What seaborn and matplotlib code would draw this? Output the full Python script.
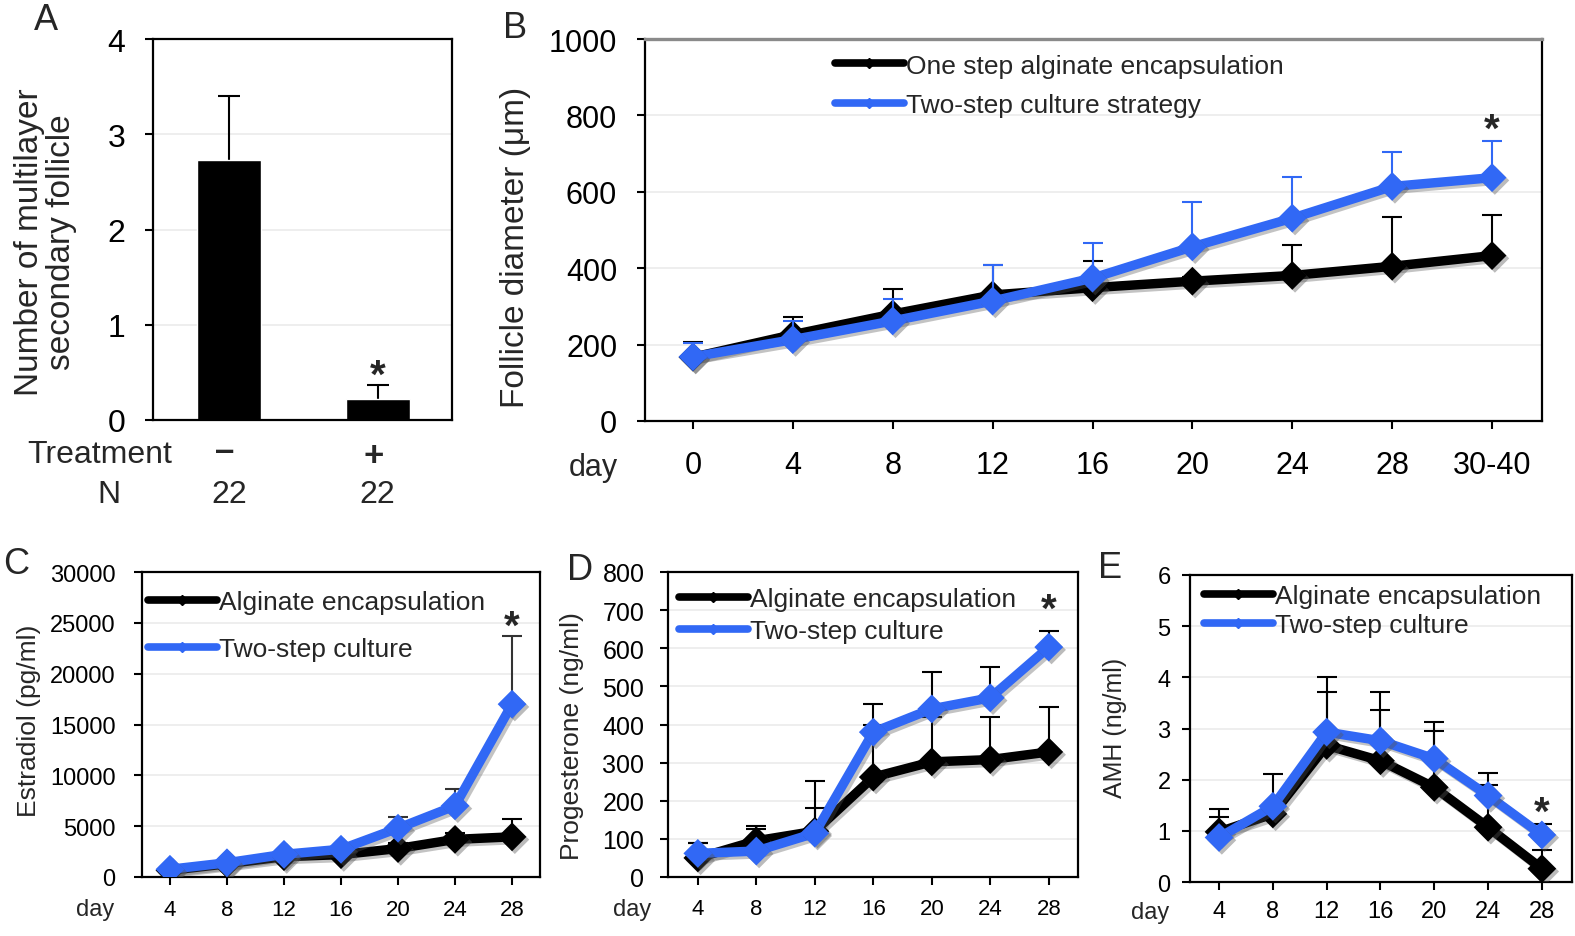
import numpy as np
import pandas as pd
import matplotlib
matplotlib.use("Agg")
import matplotlib.pyplot as plt
import seaborn as sns
import matplotlib.patheffects as pe
from matplotlib.lines import Line2D
from matplotlib.transforms import blended_transform_factory

# ---------------- data ----------------
a_groups = ["–", "+"]
a_n = ["22", "22"]
a_mean = [2.73, 0.22]
a_err_top = [3.40, 0.37]

b_days = ["0", "4", "8", "12", "16", "20", "24", "28", "30-40"]
b_one_mean = [167, 226, 280, 330, 349, 366, 381, 405, 433]
b_one_top = [206, 273, 346, 409, 420, 378, 460, 533, 538]
b_two_mean = [168, 213, 262, 314, 374, 456, 531, 614, 637]
b_two_top = [205, 262, 320, 409, 466, 574, 639, 704, 733]

hd_days = ["4", "8", "12", "16", "20", "24", "28"]
c_alg_mean = [650, 1300, 2000, 2200, 2800, 3700, 3950]
c_alg_top = [800, 1500, 2300, 2500, 3300, 4300, 5700]
c_two_mean = [760, 1400, 2230, 2730, 4800, 7000, 17000]
c_two_top = [900, 1600, 2500, 3000, 5900, 8650, 23750]

d_alg_mean = [50, 95, 120, 262, 302, 308, 328]
d_alg_top = [90, 127, 180, 400, 420, 420, 446]
d_two_mean = [62, 68, 115, 380, 441, 470, 603]
d_two_top = [88, 133, 251, 454, 539, 552, 645]

e_alg_mean = [0.98, 1.33, 2.67, 2.37, 1.85, 1.07, 0.26]
e_alg_top = [1.27, 1.50, 3.71, 3.37, 2.96, 1.89, 0.63]
e_two_mean = [0.87, 1.48, 2.93, 2.76, 2.41, 1.69, 0.92]
e_two_top = [1.43, 2.11, 4.00, 3.72, 3.12, 2.13, 1.14]

BLACK = "#000000"
BLUE = "#3168F5"
GRID = "#EBEBEB"

# ---------------- figure ----------------
sns.set_theme(style="white")
plt.rcParams["font.family"] = ["Liberation Sans", "DejaVu Sans"]

W, H = 1575, 937
fig = plt.figure(figsize=(W / 100, H / 100), dpi=100)


def add_ax(l, r, t, b):
    return fig.add_axes([l / W, 1 - b / H, (r - l) / W, (b - t) / H])


def ftext(x, y, s, **kw):
    fig.text(x / W, 1 - y / H, s, **kw)


def style(ax, ylim, yticks, yfs, xfs, ypad, xpad):
    ax.set_ylim(*ylim)
    ax.set_yticks(yticks)
    for v in yticks[1:-1]:
        ax.axhline(v, color=GRID, lw=1.2, zorder=0)
    for s in ax.spines.values():
        s.set_visible(True)
        s.set_color("black")
        s.set_linewidth(1.6)
    ax.tick_params(axis="y", left=True, direction="out", length=6, width=1.5,
                   color="black", labelsize=yfs, pad=ypad, labelcolor="black")
    ax.tick_params(axis="x", bottom=True, direction="out", length=6, width=1.5,
                   color="black", labelsize=xfs, pad=xpad, labelcolor="black")
    ax.grid(False)
    ax.set_xlabel("")


line_fx = [pe.SimpleLineShadow(offset=(2, -2), shadow_color="#555555", alpha=0.35), pe.Normal()]
mark_fx = [pe.SimplePatchShadow(offset=(2, -2), shadow_rgbFace="#555555", alpha=0.4), pe.Normal()]


def upper_errors(ax, x, mean, top, ecolor, z, capsize=7):
    mean = np.asarray(mean, float)
    top = np.asarray(top, float)
    _, caps, _ = ax.errorbar(x, mean, yerr=[np.zeros(len(mean)), top - mean], fmt="none",
                             ecolor=ecolor, elinewidth=1.5, capsize=capsize,
                             capthick=1.5, zorder=z)
    if len(caps) == 2:
        caps[0].remove()  # drop the lower cap, keep the upper one


def series(ax, mean, top, color, ecolor, z, lw=6.8, s=215):
    x = list(range(len(mean)))
    mean = np.asarray(mean, float)
    upper_errors(ax, x, mean, top, ecolor, z - 0.5)
    sns.lineplot(x=x, y=mean, ax=ax, color=color, lw=lw, sort=False, errorbar=None,
                 legend=False, zorder=z, path_effects=line_fx)
    sns.scatterplot(x=x, y=mean, ax=ax, color=color, marker="D", s=s, linewidth=0,
                    legend=False, zorder=z + 0.1, path_effects=mark_fx)


def legend(ax, labels, x, y, ls):
    hs = [Line2D([0], [0], color=BLACK, lw=5.5, marker="D", ms=5, solid_capstyle="round"),
          Line2D([0], [0], color=BLUE, lw=5.5, marker="D", ms=5, solid_capstyle="round")]
    ax.legend(hs, labels, loc="upper left", bbox_to_anchor=(x, y), frameon=False,
              fontsize=19, handlelength=2.6, handletextpad=0.1, labelspacing=ls,
              borderaxespad=0, borderpad=0)


def star(ax, xd, yfrac):
    tr = blended_transform_factory(ax.transData, ax.transAxes)
    ax.text(xd, yfrac, "*", transform=tr, ha="center", va="center", fontsize=29,
            fontweight="bold")


# ---------------- panel A ----------------
axA = add_ax(153, 452, 40, 421)
sns.barplot(x=a_groups, y=a_mean, color=BLACK, saturation=1, width=0.43,
            errorbar=None, ax=axA, zorder=2)
upper_errors(axA, [0, 1], a_mean, a_err_top, BLACK, 1.5, capsize=8)
style(axA, (0, 4), [0, 1, 2, 3, 4], 23, 10, 14, 4)
axA.set_xlim(-0.51, 1.5)
axA.set_xticks([0, 1])
axA.set_xticklabels(["", ""])
axA.tick_params(axis="x", bottom=False)
axA.set_ylabel("Number of multilayer\nsecondary follicle", fontsize=24, linespacing=1.05)
axA.yaxis.set_label_coords(-0.255, 0.47)
trA = blended_transform_factory(axA.transData, axA.transAxes)


def ay(ypx):
    return (421 - ypx) / 381


ftext(172, 463, "Treatment", ha="right", va="baseline", fontsize=23)
ftext(109, 503, "N", ha="center", va="baseline", fontsize=23)
for i, (g, n) in enumerate(zip(a_groups, a_n)):
    axA.text(i - 0.03, ay(461 if g == "–" else 466), g, transform=trA, ha="center",
             va="baseline", fontsize=25, fontweight="heavy")
    axA.text(i, ay(503), n, transform=trA, ha="center", va="baseline", fontsize=23)
star(axA, 1, ay(377))

# ---------------- panel B ----------------
axB = add_ax(645, 1542, 40, 422)
series(axB, b_one_mean, b_one_top, BLACK, BLACK, 3)
series(axB, b_two_mean, b_two_top, BLUE, BLUE, 4)
style(axB, (0, 1000), [0, 200, 400, 600, 800, 1000], 22, 22, 14, 15)
axB.spines["top"].set_color("#8a8a8a")
axB.spines["top"].set_linewidth(2.4)
axB.set_xlim(-0.48, 8.5)
axB.set_xticks(range(len(b_days)))
axB.set_xticklabels(b_days)
axB.set_ylabel("Follicle diameter (μm)", fontsize=24)
axB.yaxis.set_label_coords(-0.127, 0.458)
legend(axB, ["One step alginate encapsulation", "Two-step culture strategy"], 0.212, 0.962, 0.58)
star(axB, 8, (422 - 131) / 382)

# ---------------- panel C ----------------
axC = add_ax(142, 540, 573, 878)
series(axC, c_alg_mean, c_alg_top, BLACK, BLACK, 3)
series(axC, c_two_mean, c_two_top, BLUE, "#333333", 4)
style(axC, (0, 30000), [0, 5000, 10000, 15000, 20000, 25000, 30000], 17, 16, 13, 10)
axC.set_xlim(-0.49, 6.49)
axC.set_xticks(range(len(hd_days)))
axC.set_xticklabels(hd_days)
axC.set_ylabel("Estradiol (pg/ml)", fontsize=19)
axC.yaxis.set_label_coords(-0.255, 0.515)
legend(axC, ["Alginate encapsulation", "Two-step culture"], 0.015, 0.94, 0.86)
star(axC, 6, (878 - 628) / 305)

# ---------------- panel D ----------------
axD = add_ax(668, 1078, 573, 878)
series(axD, d_alg_mean, d_alg_top, BLACK, BLACK, 3)
series(axD, d_two_mean, d_two_top, BLUE, BLACK, 4)
style(axD, (0, 800), [0, 100, 200, 300, 400, 500, 600, 700, 800], 18, 16, 11, 9)
axD.set_xlim(-0.51, 6.5)
axD.set_xticks(range(len(hd_days)))
axD.set_xticklabels(hd_days)
axD.set_ylabel("Progesterone (ng/ml)", fontsize=19)
axD.yaxis.set_label_coords(-0.205, 0.466)
legend(axD, ["Alginate encapsulation", "Two-step culture"], 0.027, 0.95, 0.3)
star(axD, 6, (878 - 611) / 305)

# ---------------- panel E ----------------
axE = add_ax(1190, 1572, 576, 883)
series(axE, e_alg_mean, e_alg_top, BLACK, BLACK, 3)
series(axE, e_two_mean, e_two_top, BLUE, BLACK, 4)
style(axE, (0, 6), [0, 1, 2, 3, 4, 5, 6], 17, 17, 8, 7)
axE.set_xlim(-0.54, 6.56)
axE.set_xticks(range(len(hd_days)))
axE.set_xticklabels(hd_days)
axE.set_ylabel("AMH (ng/ml)", fontsize=18)
axE.yaxis.set_label_coords(-0.165, 0.505)
legend(axE, ["Alginate encapsulation", "Two-step culture"], 0.037, 0.97, 0.18)
star(axE, 6, (883 - 814) / 307)

# ---------------- "day" labels & panel letters ----------------
ftext(593, 468, "day", ha="center", va="center", fontsize=22)
ftext(95, 910, "day", ha="center", va="center", fontsize=17)
ftext(632, 910, "day", ha="center", va="center", fontsize=17)
ftext(1150, 913, "day", ha="center", va="center", fontsize=17)

for s, x, y in [("A", 46, 21), ("B", 515, 28), ("C", 16, 565), ("D", 580, 571), ("E", 1110, 568)]:
    ftext(x, y, s, ha="center", va="center", fontsize=26)

fig.savefig("out.png", dpi=100)
